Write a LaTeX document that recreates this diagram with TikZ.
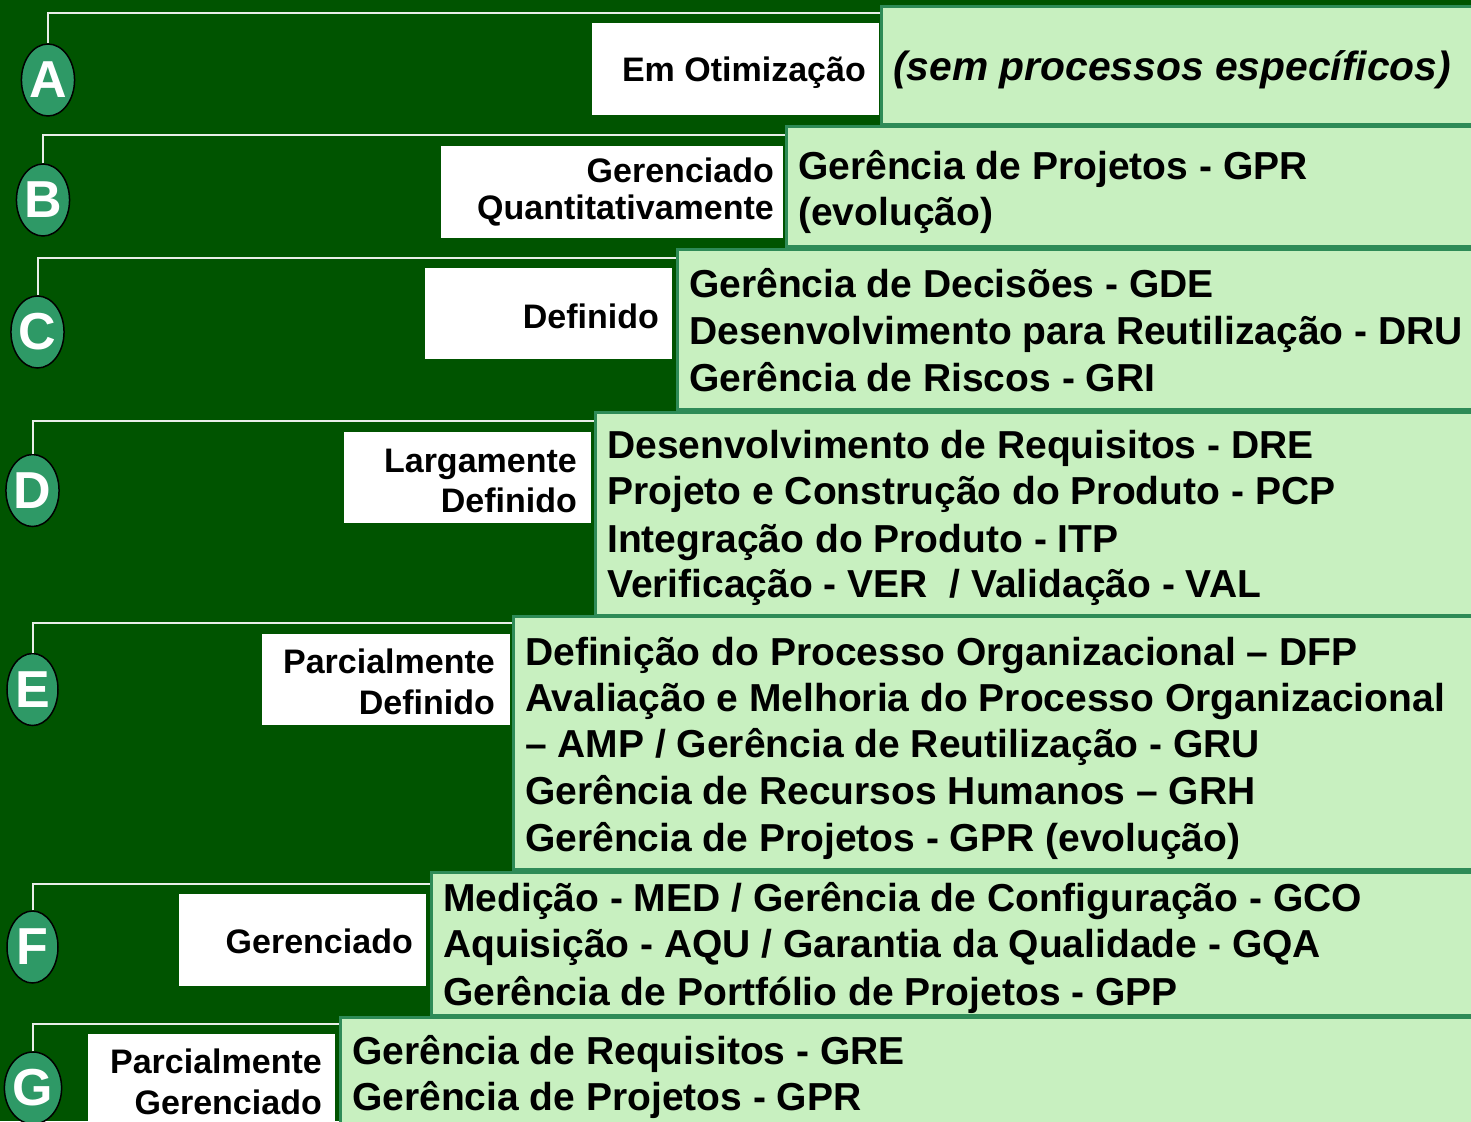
\documentclass[tikz,border=0pt]{standalone}
\usepackage{fontspec}
\setmainfont{Liberation Sans}
\usetikzlibrary{shapes.geometric}
\definecolor{bg}{HTML}{005400}
\definecolor{boxfill}{HTML}{C8F0C0}
\definecolor{boxline}{HTML}{2E8B57}
\definecolor{circfill}{HTML}{2E9966}
\definecolor{connline}{HTML}{E8EEE8}
\begin{document}
\begin{tikzpicture}[x=1pt,y=-1pt,
  gbox/.style={draw=boxline, line width=3pt, fill=boxfill, anchor=north west, inner sep=0pt, minimum width=1250pt},
  wbox/.style={fill=white, anchor=north west, inner sep=0pt},
  circ/.style={ellipse, draw=black, line width=1.5pt, fill=circfill, minimum width=51pt, minimum height=72pt, inner sep=0pt, text=white, font=\fontsize{52}{52}\selectfont\bfseries},
  lbl/.style={anchor=base east, inner sep=0pt, font=\fontsize{34}{40}\selectfont\bfseries},
  txt/.style={anchor=base west, inner sep=0pt, font=\fontsize{39}{46}\selectfont\bfseries},
  conn/.style={draw=connline, line width=2pt}]
\fill[bg] (0,0) rectangle (1471,1121);
\useasboundingbox (0,0) rectangle (1471,1121);

% ---- Row A
\node[gbox, minimum height=118pt] (gA) at (880,5) {};
\node[wbox, minimum width=287pt, minimum height=92pt] (wA) at (592,23) {};
\node[lbl] (lA) at (866,82) {Em Otimização};
\node[circ] (cA) at (48,80) {A};
\coordinate (kA) at (48,13);
\node[txt, font=\fontsize{40.8}{46}\selectfont\bfseries\itshape] (tA1) at (893,81) {(sem processos específicos)};

% ---- Row B
\node[gbox, minimum height=120pt] (gB) at (785,125) {};
\node[wbox, minimum width=342pt, minimum height=92pt] (wB) at (441,146) {};
\node[lbl] (lB1) at (774,182) {Gerenciado};
\node[lbl] (lB2) at (774,219) {Quantitativamente};
\node[circ] (cB) at (43,200) {B};
\coordinate (kB) at (43,135);
\node[txt] (tB1) at (798,179) {Gerência de Projetos - GPR};
\node[txt] (tB2) at (798,225) {(evolução)};

% ---- Row C
\node[gbox, minimum height=160pt] (gC) at (676,248) {};
\node[wbox, minimum width=247pt, minimum height=91pt] (wC) at (425,268) {};
\node[lbl] (lC) at (659,328) {Definido};
\node[circ] (cC) at (37.5,332) {C};
\coordinate (kC) at (37.5,258);
\node[txt] (tC1) at (689,297) {Gerência de Decisões - GDE};
\node[txt] (tC2) at (689,344) {Desenvolvimento para Reutilização - DRU};
\node[txt] (tC3) at (689,391) {Gerência de Riscos - GRI};

% ---- Row D
\node[gbox, minimum height=203pt] (gD) at (594,411) {};
\node[wbox, minimum width=247pt, minimum height=91pt] (wD) at (344,432) {};
\node[lbl] (lD1) at (577,472) {Largamente};
\node[lbl] (lD2) at (577,512) {Definido};
\node[circ] (cD) at (32.5,490.5) {D};
\coordinate (kD) at (32.5,421);
\node[txt] (tD1) at (607,458) {Desenvolvimento de Requisitos - DRE};
\node[txt] (tD2) at (607,504) {Projeto e Construção do Produto - PCP};
\node[txt] (tD3) at (607,552) {Integração do Produto - ITP};
\node[txt] (tD4) at (607,597) {Verificação - VER~ / Validação - VAL};

% ---- Row E
\node[gbox, minimum height=253pt] (gE) at (512,615) {};
\node[wbox, minimum width=248pt, minimum height=91pt] (wE) at (262,634) {};
\node[lbl] (lE1) at (495,673) {Parcialmente};
\node[lbl] (lE2) at (495,714) {Definido};
\node[circ] (cE) at (32.5,689.5) {E};
\coordinate (kE) at (32.5,623);
\node[txt] (tE1) at (525,665) {Definição do Processo Organizacional – DFP};
\node[txt] (tE2) at (525,711) {Avaliação e Melhoria do Processo Organizacional};
\node[txt] (tE3) at (525,757) {– AMP / Gerência de Reutilização - GRU};
\node[txt] (tE4) at (525,804) {Gerência de Recursos Humanos – GRH};
\node[txt] (tE5) at (525,851) {Gerência de Projetos - GPR (evolução)};

% ---- Row F
\node[gbox, minimum height=143pt] (gF) at (430,871) {};
\node[wbox, minimum width=247pt, minimum height=92pt] (wF) at (179,894) {};
\node[lbl] (lF) at (413,953) {Gerenciado};
\node[circ] (cF) at (32.5,947) {F};
\coordinate (kF) at (32.5,884);
\node[txt] (tF1) at (443,911) {Medição - MED / Gerência de Configuração - GCO};
\node[txt] (tF2) at (443,957) {Aquisição - AQU / Garantia da Qualidade - GQA};
\node[txt] (tF3) at (443,1005) {Gerência de Portfólio de Projetos - GPP};

% ---- Row G
\node[gbox, minimum height=130pt] (gG) at (339,1016) {};
\node[wbox, minimum width=247pt, minimum height=100pt] (wG) at (88,1034) {};
\node[lbl] (lG1) at (322,1073) {Parcialmente};
\node[lbl] (lG2) at (322,1114) {Gerenciado};
\node[circ] (cG) at (33,1088) {G};
\coordinate (kG) at (30,1024);
\node[txt] (tG1) at (352,1064) {Gerência de Requisitos - GRE};
\node[txt] (tG2) at (352,1110) {Gerência de Projetos - GPR};

% ---- connectors
\foreach \r in {A,B,C,D,E,F,G}{
  \draw[conn] (c\r.north) -- (c\r.north |- k\r) -- (g\r.west |- k\r);
}
\end{tikzpicture}
\end{document}
